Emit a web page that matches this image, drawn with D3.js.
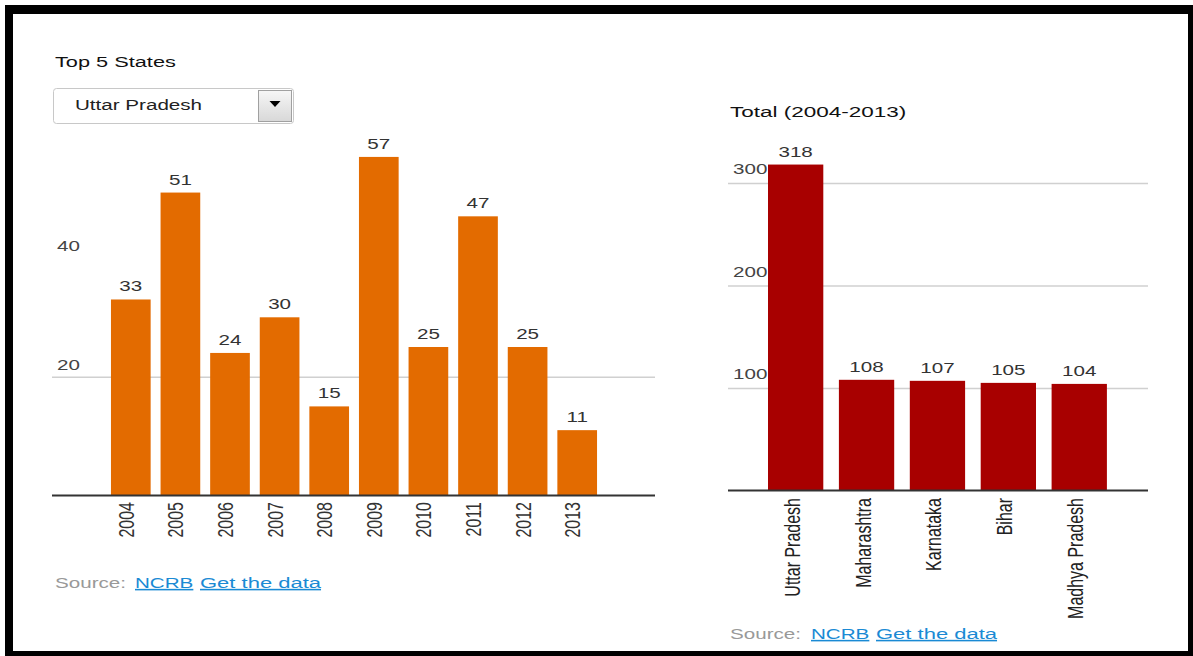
<!DOCTYPE html>
<html>
<head>
<meta charset="utf-8">
<script src="https://cdn.jsdelivr.net/npm/d3@7"></script>
<style>
  body { margin: 0; background: #fff; }
  text { font-family: "Liberation Sans", Arial, sans-serif; }
</style>
</head>
<body>
<svg id="chart" width="1193" height="656"></svg>
<script>
// yearly cases for the selected state
const years = ["2004", "2005", "2006", "2007", "2008", "2009", "2010", "2011", "2012", "2013"];
const cases = [33, 51, 24, 30, 15, 57, 25, 47, 25, 11];
const leftTicks = [20, 40];
const leftGrid = [20];

// totals 2004-2013, top 5 states
const states = ["Uttar Pradesh", "Maharashtra", "Karnataka", "Bihar", "Madhya Pradesh"];
const totals = [318, 108, 107, 105, 104];
const rightTicks = [100, 200, 300];

const SX = 1.33; // the source picture is stretched wide, so text is too
const FS = 15.5;

var svg = d3.select("#chart");

// black frame
svg.append("rect").attr("x", 5).attr("y", 5).attr("width", 1188).attr("height", 651).attr("fill", "#000");
svg.append("rect").attr("x", 13).attr("y", 14).attr("width", 1175).attr("height", 637).attr("fill", "#fff");

function label(g, x, y, txt, opts) {
  opts = opts || {};
  var t = g.append("text")
    .attr("transform", "translate(" + x + "," + y + ") scale(" + (opts.sx || SX) + ",1)" + (opts.rot ? " rotate(-90)" : ""))
    .attr("font-size", opts.size || FS)
    .attr("fill", opts.fill || "#333")
    .attr("text-anchor", opts.anchor || "start")
    .text(txt);
  if (opts.underline) t.attr("text-decoration", "underline");
  return t;
}

// ---------- left chart ----------
var left = svg.append("g");
label(left, 55, 67, "Top 5 States", {fill: "#111", size: 15, sx: 1.45});

// dropdown
left.append("rect").attr("x", 53.5).attr("y", 88.5).attr("width", 240).attr("height", 35).attr("rx", 3)
  .attr("fill", "#fff").attr("stroke", "#c8c8c8");
label(left, 75, 110, "Uttar Pradesh", {fill: "#222"});
var grad = svg.append("defs").append("linearGradient").attr("id", "btn").attr("x1", 0).attr("y1", 0).attr("x2", 0).attr("y2", 1);
grad.append("stop").attr("offset", "0%").attr("stop-color", "#f6f6f6");
grad.append("stop").attr("offset", "100%").attr("stop-color", "#d8d8d8");
left.append("rect").attr("x", 258.5).attr("y", 90.5).attr("width", 33).attr("height", 31)
  .attr("fill", "url(#btn)").attr("stroke", "#a0a0a0");
left.append("path").attr("d", "M269.5,101 L280.5,101 L275,107 Z").attr("fill", "#000");

var xL = d3.scaleBand().domain(years).range([106, 602]).paddingInner(0.2).paddingOuter(0.1);
var yL = d3.scaleLinear().domain([0, 60]).range([495.5, 139.1]);

left.append("g")
  .attr("transform", "translate(655,0)")
  .call(d3.axisLeft(yL).tickValues(leftGrid).tickSize(603).tickFormat(""))
  .call(g => g.select(".domain").remove())
  .call(g => g.selectAll("line").attr("stroke", "#d0d0d0").attr("stroke-width", 1.5));

leftTicks.forEach(v => label(left, 57, yL(v) - 7, v, {fill: "#444"}));

left.selectAll(".barL")
  .data(years)
  .enter()
  .append("rect")
  .attr("x", d => xL(d))
  .attr("y", (d, i) => yL(cases[i]))
  .attr("width", xL.bandwidth())
  .attr("height", (d, i) => yL(0) - yL(cases[i]))
  .attr("fill", "#e36b00");

years.forEach((d, i) => {
  label(left, xL(d) + xL.bandwidth() / 2, yL(cases[i]) - 8, cases[i], {anchor: "middle"});
  label(left, xL(d) + xL.bandwidth() / 2 + 3, 502, d, {anchor: "end", rot: true, size: 16});
});

left.append("line").attr("x1", 52).attr("x2", 655).attr("y1", yL(0)).attr("y2", yL(0))
  .attr("stroke", "#333").attr("stroke-width", 2);

label(left, 55, 588, "Source:", {fill: "#999"});
label(left, 135, 588, "NCRB", {fill: "#1a8ad4", underline: true});
label(left, 200, 588, "Get the data", {fill: "#1a8ad4", underline: true, sx: 1.42});

// ---------- right chart ----------
var right = svg.append("g");
label(right, 730, 117, "Total (2004-2013)", {fill: "#111", size: 15, sx: 1.5});

var xR = d3.scaleBand().domain(states).range([760.2, 1114.7]).paddingInner(0.22).paddingOuter(0.11);
var yR = d3.scaleLinear().domain([0, 300]).range([490.5, 183]);

right.append("g")
  .attr("transform", "translate(1148,0)")
  .call(d3.axisLeft(yR).tickValues(rightTicks).tickSize(420).tickFormat(""))
  .call(g => g.select(".domain").remove())
  .call(g => g.selectAll("line").attr("stroke", "#d0d0d0").attr("stroke-width", 1.5));

rightTicks.forEach(v => label(right, 733, yR(v) - 9, v, {fill: "#444"}));

right.selectAll(".barR")
  .data(states)
  .enter()
  .append("rect")
  .attr("x", d => xR(d))
  .attr("y", (d, i) => yR(totals[i]))
  .attr("width", xR.bandwidth())
  .attr("height", (d, i) => yR(0) - yR(totals[i]))
  .attr("fill", "#a80000");

states.forEach((d, i) => {
  label(right, xR(d) + xR.bandwidth() / 2, yR(totals[i]) - 8, totals[i], {anchor: "middle"});
  label(right, xR(d) + xR.bandwidth() / 2 + 4, 498, d, {anchor: "end", rot: true, fill: "#222", size: 16});
});

right.append("line").attr("x1", 728).attr("x2", 1148).attr("y1", yR(0)).attr("y2", yR(0))
  .attr("stroke", "#333").attr("stroke-width", 2);

label(right, 730, 639, "Source:", {fill: "#999"});
label(right, 811, 639, "NCRB", {fill: "#1a8ad4", underline: true});
label(right, 876, 639, "Get the data", {fill: "#1a8ad4", underline: true, sx: 1.42});
</script>
</body>
</html>
